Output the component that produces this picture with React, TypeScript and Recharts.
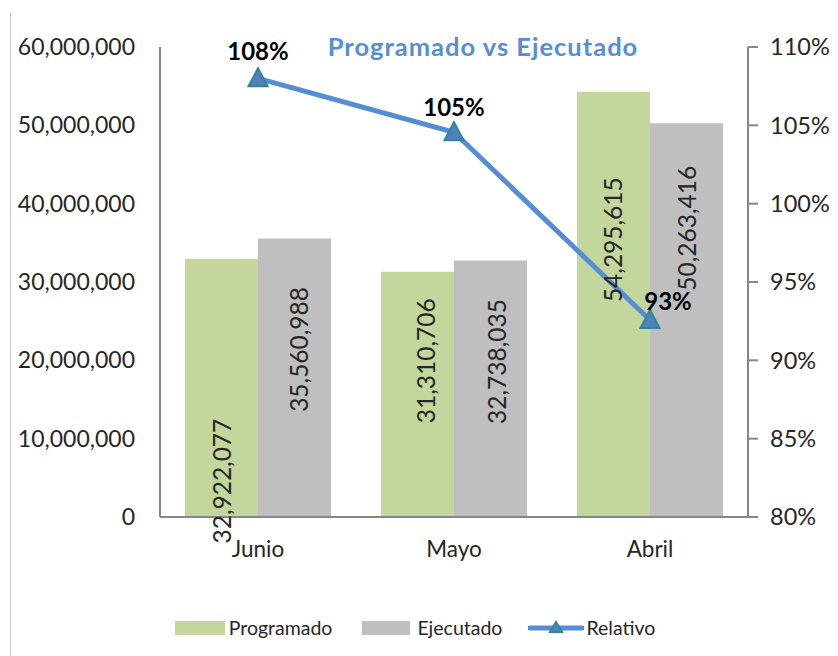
import React from 'react'
import { ComposedChart, Bar, Line, XAxis, YAxis, Legend, LabelList } from 'recharts'

const meses = ['Junio', 'Mayo', 'Abril']
const programado = [32922077, 31310706, 54295615]
const ejecutado = [35560988, 32738035, 50263416]
const relativo = [1.08, 1.0456, 0.9257]
const montoTicks = [0, 10000000, 20000000, 30000000, 40000000, 50000000, 60000000]
const pctTicks = [0.8, 0.85, 0.9, 0.95, 1.0, 1.05, 1.1]

// etiquetas movidas a mano en el original (dx, dy desde el tope de la barra)
const progLabelShift = [[0, 222], [8, 89], [-1, 148]]
const ejecLabelShift = [[4, 111], [6, 101], [0, 105]]
const relLabelShift = [[0, -28], [0, -26], [18, -20]]

const data = meses.map((mes, i) => ({
  mes,
  programado: programado[i],
  ejecutado: ejecutado[i],
  relativo: relativo[i],
}))

const FONT = "Lato, 'Open Sans', sans-serif"
const TEXT = '#262626'
const AXIS = '#868686'
const VERDE = '#c3d69b'
const GRIS = '#bfbfbf'
const AZUL = '#558ed5'
const TEAL = '#31849b'

const fmtNum = (v: number) => v.toLocaleString('en-US')
const fmtPct = (v: number) => `${Math.round(v * 100)}%`

const barLabel = (shift: number[][], serie: number[]) => (props: any) => {
  const { x, y, width, value } = props
  const idx = props.index ?? serie.indexOf(value)
  const [dx, dy] = shift[idx] || [0, 100]
  const cx = Number(x) + Number(width) / 2 + dx
  const cy = Number(y) + dy
  return (
    <text
      x={cx}
      y={cy}
      transform={`rotate(-90 ${cx} ${cy})`}
      textAnchor="middle"
      dominantBaseline="central"
      fontFamily={FONT}
      fontSize={24.5}
      fill={TEXT}
    >
      {fmtNum(value)}
    </text>
  )
}

const lineLabel = (props: any) => {
  const { x, y, value } = props
  const idx = props.index ?? relativo.indexOf(value)
  const [dx, dy] = relLabelShift[idx] || [0, -26]
  return (
    <text
      x={Number(x) + dx}
      y={Number(y) + dy}
      textAnchor="middle"
      dominantBaseline="central"
      fontFamily={FONT}
      fontSize={24}
      fontWeight="bold"
      fill="#000"
    >
      {fmtPct(value)}
    </text>
  )
}

const Triangulo = (props: any) => {
  const { cx, cy } = props
  if (cx == null || cy == null) return null
  return (
    <polygon
      points={`${cx},${cy - 10} ${cx + 9.5},${cy + 8} ${cx - 9.5},${cy + 8}`}
      fill="#4f81bd"
      stroke={TEAL}
      strokeWidth={2}
    />
  )
}

const Leyenda = () => (
  <div
    style={{
      display: 'flex',
      justifyContent: 'center',
      alignItems: 'center',
      fontFamily: FONT,
      fontSize: 19.5,
      color: TEXT,
      marginLeft: -8,
    }}
  >
    <span style={{ width: 50, height: 14, background: VERDE, marginRight: 4 }} />
    <span style={{ marginRight: 30 }}>Programado</span>
    <span style={{ width: 48, height: 14, background: GRIS, marginRight: 7 }} />
    <span style={{ marginRight: 26 }}>Ejecutado</span>
    <svg width={56} height={16} style={{ marginRight: 2 }}>
      <line x1={2} y1={8} x2={54} y2={8} stroke={AZUL} strokeWidth={5} strokeLinecap="round" />
      <polygon points="28,2 34,12 22,12" fill="#4f81bd" stroke={TEAL} strokeWidth={2} />
    </svg>
    <span>Relativo</span>
  </div>
)

export default function App() {
  return (
    <div style={{ position: 'absolute', left: 0, top: 0, width: 838, height: 656, background: '#fff' }}>
      <div
        style={{
          position: 'absolute',
          left: 10,
          top: 13,
          width: 1,
          height: 643,
          background: '#c8c8c8',
        }}
      />
      <div
        style={{
          position: 'absolute',
          left: 0,
          width: 966,
          top: 31,
          textAlign: 'center',
          fontFamily: FONT,
          fontWeight: 'bold',
          fontSize: 25.5,
          letterSpacing: 1,
          color: AZUL,
          lineHeight: '30px',
          zIndex: 2,
        }}
      >
        Programado vs Ejecutado
      </div>
      <ComposedChart
        width={838}
        height={656}
        data={data}
        margin={{ top: 47, right: 0, bottom: 89, left: 10 }}
        barCategoryGap={25}
        barGap={0}
      >
        <XAxis
          dataKey="mes"
          height={50}
          tickLine={false}
          tickSize={0}
          tickMargin={24}
          axisLine={{ stroke: AXIS, strokeWidth: 2 }}
          tick={{ fill: TEXT, fontSize: 22.5, fontFamily: FONT }}
        />
        <YAxis
          yAxisId="monto"
          width={150}
          domain={[0, 60000000]}
          ticks={montoTicks}
          interval={0}
          tickLine={false}
          tickSize={0}
          tickMargin={25}
          tickFormatter={fmtNum}
          axisLine={{ stroke: AXIS, strokeWidth: 2 }}
          tick={{ fill: TEXT, fontSize: 23, fontFamily: FONT }}
        />
        <YAxis
          yAxisId="pct"
          orientation="right"
          width={90}
          domain={[0.8, 1.1]}
          ticks={pctTicks}
          interval={0}
          tickSize={10}
          tickMargin={12}
          tickFormatter={fmtPct}
          tickLine={{ stroke: AXIS, strokeWidth: 2 }}
          axisLine={{ stroke: AXIS, strokeWidth: 2 }}
          tick={{ fill: TEXT, fontSize: 23.5, fontFamily: FONT }}
        />
        <Legend
          verticalAlign="middle"
          layout="horizontal"
          content={() => <Leyenda />}
          wrapperStyle={{ position: 'absolute', top: 616, left: 0, width: 838, height: 24 }}
        />
        <Bar yAxisId="monto" dataKey="programado" name="Programado" fill={VERDE} isAnimationActive={false}>
          <LabelList dataKey="programado" content={barLabel(progLabelShift, programado)} />
        </Bar>
        <Bar yAxisId="monto" dataKey="ejecutado" name="Ejecutado" fill={GRIS} isAnimationActive={false}>
          <LabelList dataKey="ejecutado" content={barLabel(ejecLabelShift, ejecutado)} />
        </Bar>
        <Line
          yAxisId="pct"
          dataKey="relativo"
          name="Relativo"
          stroke={AZUL}
          strokeWidth={5}
          dot={<Triangulo />}
          activeDot={false}
          isAnimationActive={false}
        >
          <LabelList dataKey="relativo" content={lineLabel} />
        </Line>
      </ComposedChart>
    </div>
  )
}
